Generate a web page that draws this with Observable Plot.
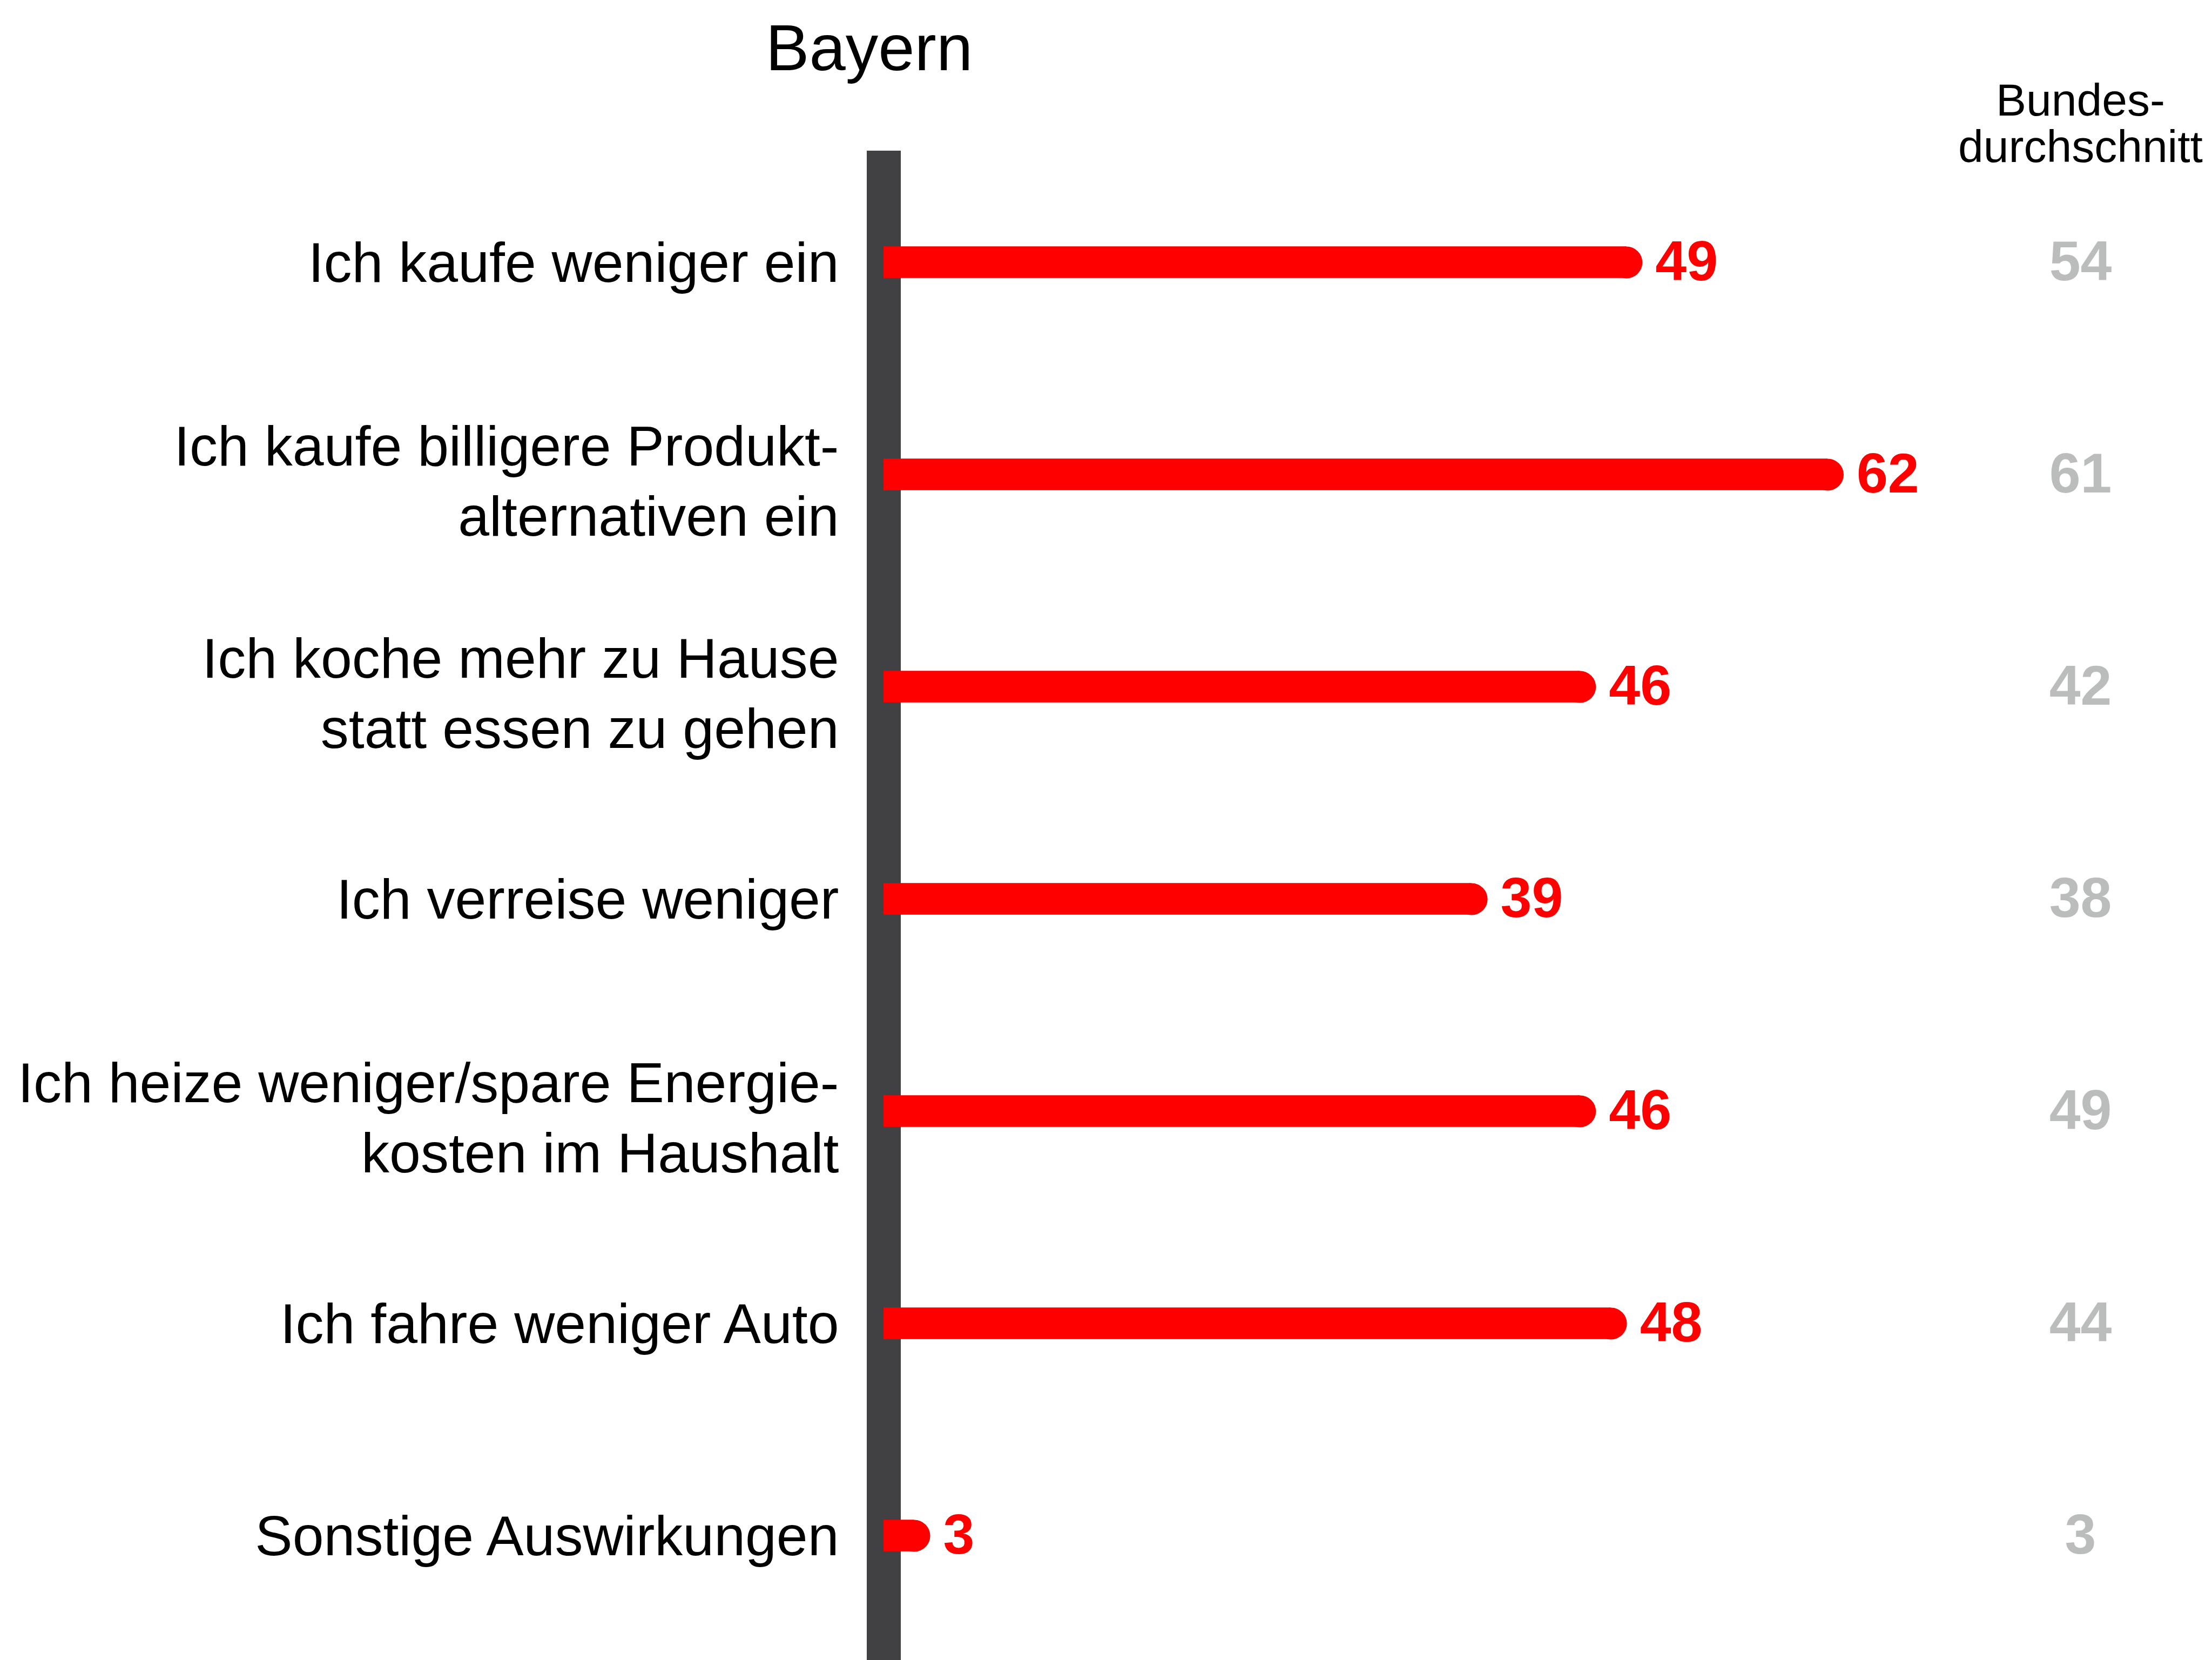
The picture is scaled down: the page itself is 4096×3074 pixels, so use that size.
<!DOCTYPE html>
<html>
<head>
<meta charset="utf-8">
<script src="https://cdn.jsdelivr.net/npm/d3@7"></script>
<script src="https://cdn.jsdelivr.net/npm/@observablehq/plot@0.6"></script>
<style>
  html, body { margin: 0; padding: 0; background: #ffffff; overflow: hidden; }
  #chart svg { display: block; }
</style>
</head>
<body>
<div id="chart"></div>
<script>
// ---- data ----
const categories = [
  "Ich kaufe weniger ein",
  "Ich kaufe billigere Produkt-\nalternativen ein",
  "Ich koche mehr zu Hause\nstatt essen zu gehen",
  "Ich verreise weniger",
  "Ich heize weniger/spare Energie-\nkosten im Haushalt",
  "Ich fahre weniger Auto",
  "Sonstige Auswirkungen"
];
const bayern = [49, 62, 46, 39, 46, 48, 3];
const bundesdurchschnitt = [54, 61, 42, 38, 49, 44, 3];
const title = "Bayern";
const benchmarkHeader = "Bundes-\ndurchschnitt";

const rows = categories.map((category, i) => ({
  category,
  bayern: bayern[i],
  bund: bundesdurchschnitt[i],
  multiline: category.includes("\n")
}));

// ---- style ----
const RED = "#fe0000";
const DARK = "#414143";
const GRAY = "#bbbdbc";
const FONT = "'Liberation Sans', Arial, sans-serif";
const BAR_H = 59;            // bar thickness
const R = BAR_H / 2;         // rounded cap radius
const STEP = 393.4;          // row step
const INSET = (STEP - BAR_H) / 2;

const chart = Plot.plot({
  width: 4096,
  height: 3074,
  marginLeft: 1636,
  marginRight: 682.5,
  marginTop: 279,
  marginBottom: 0,
  style: { fontFamily: FONT, background: "#ffffff", overflow: "visible" },
  x: { domain: [0, 62], axis: null },
  y: { domain: categories, range: [288, 288 + 7 * STEP], padding: 0, axis: null },
  marks: [
    // vertical baseline bar
    Plot.ruleX([0], { stroke: DARK, strokeWidth: 63 }),
    // bars (square body + rounded end)
    Plot.barX(rows, { y: "category", x: "bayern", fill: RED, insetTop: INSET, insetBottom: INSET, insetRight: R }),
    Plot.dot(rows, { y: "category", x: "bayern", r: R, fill: RED, stroke: null, dx: -R }),
    // value labels
    Plot.text(rows, { y: "category", x: "bayern", text: d => String(d.bayern), textAnchor: "start", dx: 24,
      fill: RED, fontSize: 104, fontWeight: "bold", lineAnchor: "middle", lineHeight: 1 }),
    // national average column
    Plot.text(rows, { y: "category", text: d => String(d.bund), frameAnchor: "right", textAnchor: "middle", dx: 438.5,
      fill: GRAY, fontSize: 104, fontWeight: "bold", lineAnchor: "middle", lineHeight: 1 }),
    // category labels
    Plot.text(rows.filter(d => !d.multiline), { y: "category", text: "category", frameAnchor: "left", textAnchor: "end",
      dx: -83, dy: 3, fill: "#000000", fontSize: 104, lineAnchor: "middle", lineHeight: 1 }),
    Plot.text(rows.filter(d => d.multiline), { y: "category", text: "category", frameAnchor: "left", textAnchor: "end",
      dx: -83, dy: 6, fill: "#000000", fontSize: 104, lineAnchor: "middle", lineHeight: 1.25 }),
    // title and column header
    Plot.text([title], { text: d => d, frameAnchor: "top-left", textAnchor: "middle", lineAnchor: "top",
      dx: -27, dy: -235, fill: "#000000", fontSize: 121 }),
    Plot.text([benchmarkHeader], { text: d => d, frameAnchor: "top-right", textAnchor: "middle", lineAnchor: "top",
      dx: 438.5, dy: -127, fill: "#000000", fontSize: 84, lineHeight: 1.03 })
  ]
});

document.getElementById("chart").appendChild(chart);
</script>
</body>
</html>
